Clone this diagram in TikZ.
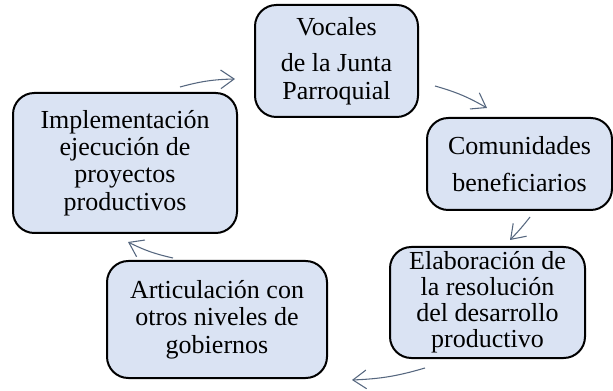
\documentclass[tikz,border=0pt]{standalone}
\usepackage{fontspec}
\setmainfont{Liberation Serif}
\usetikzlibrary{arrows.meta}
\definecolor{cajaazul}{HTML}{DAE3F3}
\definecolor{flecha}{HTML}{56677F}
\begin{document}
\begin{tikzpicture}[x=0.75pt,y=-0.75pt,
    caja/.style={draw=black,line width=1.5pt,fill=cajaazul,rounded corners=16pt,
        align=center,inner sep=0pt,font=\fontsize{19.5}{20.5}\selectfont},
    flechita/.style={draw=flecha,line width=0.8pt,-{Straight Barb[length=10pt,width=14pt]},bend left=7}]
    \useasboundingbox (0,0) rectangle (613,391);
    \node[caja,minimum width=122.25pt,minimum height=84pt] (voc) at (336.5,61) {Vocales\\[7pt]de la Junta\\Parroquial};
    \node[caja,minimum width=138.75pt,minimum height=69pt] (com) at (519.5,164) {Comunidades\\[7pt]beneficiarios};
    \node[caja,minimum width=146.25pt,minimum height=83.25pt,font=\fontsize{19.5}{19.5}\selectfont] (ela) at (487.5,302.5) {Elaboración de\\la resolución\\del desarrollo\\productivo};
    \node[caja,minimum width=165pt,minimum height=87.75pt] (art) at (217,319.5) {Articulación con\\otros niveles de\\gobiernos};
    \node[caja,minimum width=168pt,minimum height=105pt] (imp) at (125,163) {Implementación\\ejecución de\\proyectos\\productivos};
    % extremos de las flechas
    \coordinate (f1a) at (180,87);  \coordinate (f1b) at (235,79);
    \coordinate (f2a) at (435,86);  \coordinate (f2b) at (487,108);
    \coordinate (f3a) at (530,217); \coordinate (f3b) at (510,240);
    \coordinate (f4a) at (425,368); \coordinate (f4b) at (352,380);
    \coordinate (f5a) at (173,258); \coordinate (f5b) at (128,242);
    \draw[flechita] (f1a) to (f1b);
    \draw[flechita] (f2a) to (f2b);
    \draw[flechita,bend left=3] (f3a) to (f3b);
    \draw[flechita] (f4a) to (f4b);
    \draw[flechita] (f5a) to (f5b);
\end{tikzpicture}
\end{document}
